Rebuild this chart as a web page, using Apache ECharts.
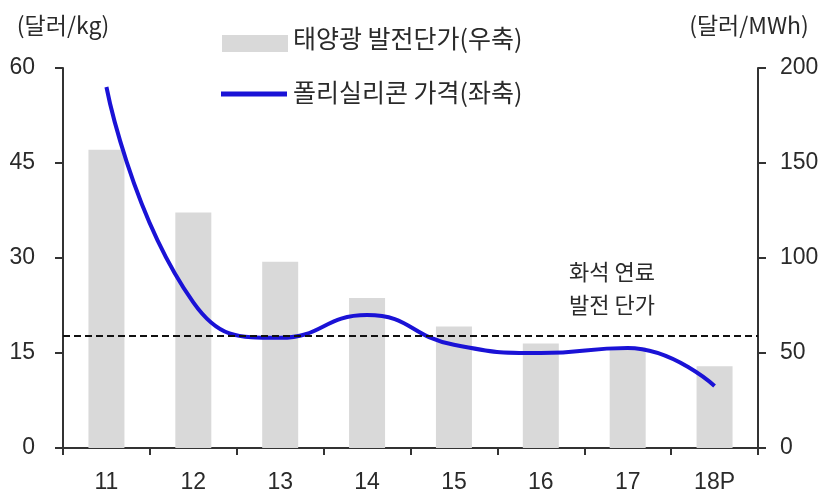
<!DOCTYPE html>
<html>
<head>
<meta charset="utf-8">
<script src="https://cdn.jsdelivr.net/npm/echarts@6/dist/echarts.min.js"></script>
<style>
  html, body { margin: 0; padding: 0; background: #fff; }
  #chart { width: 824px; height: 497px; }
</style>
</head>
<body>
<div id="chart"></div>
<script>
// Years on the category axis
const years = ['11', '12', '13', '14', '15', '16', '17', '18P'];
// Solar generation cost, $/MWh (right axis)
const solarCost = [157, 124, 98, 79, 64, 55, 53, 43];
// Polysilicon price, $/kg (left axis)
const polyPrice = [57, 23, 17.4, 21, 16.3, 15, 15.8, 9.8];
// Fossil fuel generation cost reference level, on the left-axis scale
const fossilLevel = [17.7];
// Tick labels
const leftTicks = [0, 15, 30, 45, 60];
const rightTicks = [0, 50, 100, 150, 200];
// Series names
const barName = '태양광 발전단가(우축)';
const lineName = '폴리실리콘 가격(좌축)';

const KR = '"Noto Sans CJK KR", "Liberation Sans", sans-serif';
const NUM = '"Liberation Sans", Arial, sans-serif';
const txt = '#2a2a2a';
const axisCol = '#333';
const barColor = '#d9d9d9';
const lineColor = '#1a12d6';

const chart = echarts.init(document.getElementById('chart'));
chart.setOption({
  animation: false,
  backgroundColor: '#fff',
  grid: { left: 63, right: 66, top: 68, bottom: 49 },
  xAxis: {
    type: 'category',
    data: years,
    boundaryGap: true,
    axisLine: { lineStyle: { color: axisCol, width: 2 } },
    axisTick: { show: true, length: 7, lineStyle: { color: axisCol, width: 2 } },
    axisLabel: { fontFamily: NUM, fontSize: 23, color: txt, margin: 23 }
  },
  yAxis: [
    {
      type: 'value', min: leftTicks[0], max: leftTicks[leftTicks.length - 1], interval: 15,
      name: '(달러/kg)', nameGap: 31, nameLocation: 'end',
      nameTextStyle: { fontFamily: KR, fontSize: 23, color: txt, align: 'center' },
      axisLine: { show: true, lineStyle: { color: axisCol, width: 2 } },
      axisTick: { show: true, length: 8, lineStyle: { color: axisCol, width: 2 } },
      axisLabel: { fontFamily: NUM, fontSize: 23, color: txt, margin: 28 },
      splitLine: { show: false }
    },
    {
      type: 'value', min: rightTicks[0], max: rightTicks[rightTicks.length - 1], interval: 50,
      name: '(달러/MWh)', nameGap: 31, nameLocation: 'end',
      nameTextStyle: { fontFamily: KR, fontSize: 23, color: txt, align: 'center', padding: [0, 18, 0, 0] },
      axisLine: { show: true, lineStyle: { color: axisCol, width: 2 } },
      axisTick: { show: true, length: 8, lineStyle: { color: axisCol, width: 2 } },
      axisLabel: { fontFamily: NUM, fontSize: 23, color: txt, margin: 22 },
      splitLine: { show: false }
    }
  ],
  series: [
    {
      name: barName,
      type: 'bar',
      yAxisIndex: 1,
      data: solarCost,
      barWidth: 36,
      itemStyle: { color: barColor }
    },
    {
      name: lineName,
      type: 'line',
      yAxisIndex: 0,
      data: polyPrice,
      smooth: 0.5,
      symbol: 'none',
      lineStyle: { color: lineColor, width: 4 },
      z: 3,
      markLine: {
        silent: true,
        symbol: 'none',
        label: { show: false },
        lineStyle: { color: '#111', width: 2, type: [7, 4] },
        data: [{ yAxis: fossilLevel[0] }]
      }
    }
  ],
  graphic: [
    // legend: bar swatch + label
    { type: 'rect', left: 222, top: 35, shape: { width: 66, height: 17 }, style: { fill: barColor } },
    {
      type: 'text', left: 293, top: 26,
      style: { text: barName, fontFamily: KR, fontSize: 25, fill: txt }
    },
    // legend: line swatch + label
    { type: 'line', shape: { x1: 221, y1: 94, x2: 287, y2: 94 }, style: { stroke: lineColor, lineWidth: 5 } },
    {
      type: 'text', left: 293, top: 80,
      style: { text: lineName, fontFamily: KR, fontSize: 25, fill: txt }
    },
    // annotation next to the dashed reference line
    {
      type: 'text', left: 569, top: 255,
      style: {
        text: '화석 연료\n발전 단가',
        fontFamily: KR,
        fontSize: 22,
        lineHeight: 33,
        fill: txt
      }
    }
  ]
});
</script>
</body>
</html>
